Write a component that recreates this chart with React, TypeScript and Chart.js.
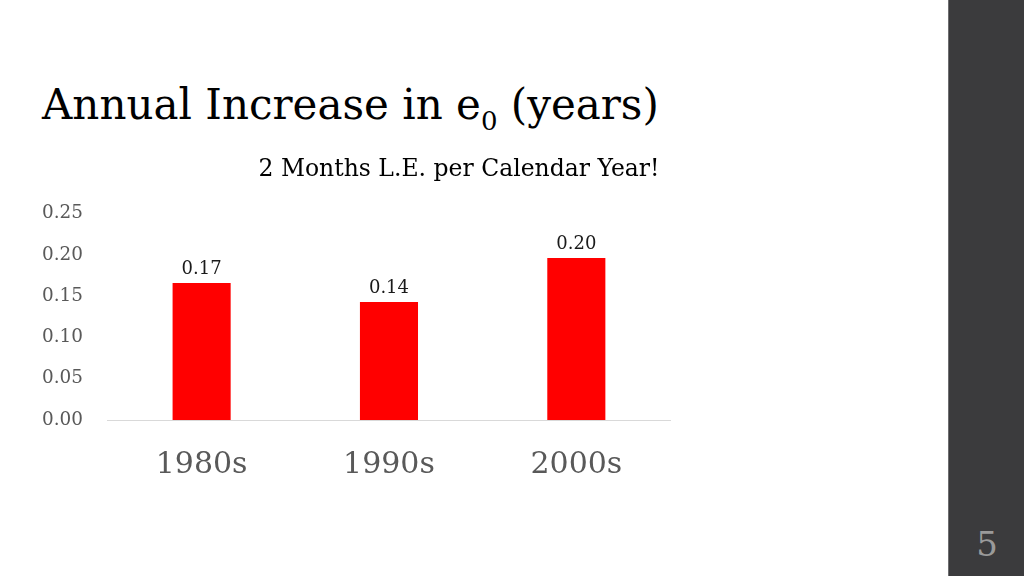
import React, { useEffect, useRef } from 'react';
import { Chart, registerables } from 'chart.js';

Chart.register(...registerables);

// ---- data ----
const categories: string[] = ['1980s', '1990s', '2000s'];
const increaseValues: number[] = [0.166, 0.143, 0.196];
const yMin = 0;
const yMax = 0.25;
const yStep = 0.05;

// ---- texts ----
const slideTitleMain = 'Annual Increase in e';
const slideTitleSub = '0';
const slideTitleEnd = ' (years)';
const chartSubtitle = '2 Months L.E. per Calendar Year!';
const slideNumber = '5';

const FONT = "'DejaVu Serif', serif";

const subtitlePlugin = {
  id: 'slideSubtitle',
  afterDraw(chart: any, _args: any, opts: any) {
    const { ctx, chartArea } = chart;
    ctx.save();
    ctx.font = `${opts.size}px ${FONT}`;
    ctx.fillStyle = opts.color;
    ctx.textAlign = 'center';
    ctx.textBaseline = 'middle';
    ctx.fillText(opts.text, chart.width / 2, chartArea.top - opts.offset);
    ctx.restore();
  },
};

const valueLabelPlugin = {
  id: 'valueLabels',
  afterDatasetsDraw(chart: any, _args: any, opts: any) {
    const { ctx } = chart;
    ctx.save();
    ctx.font = `${opts.size}px ${FONT}`;
    ctx.fillStyle = opts.color;
    ctx.textAlign = 'center';
    ctx.textBaseline = 'alphabetic';
    chart.data.datasets.forEach((ds: any, di: number) => {
      const meta = chart.getDatasetMeta(di);
      meta.data.forEach((el: any, i: number) => {
        const v = ds.data[i] as number;
        ctx.fillText(v.toFixed(2), el.x, el.y - opts.gap);
      });
    });
    ctx.restore();
  },
};

function BarChart() {
  const ref = useRef<HTMLCanvasElement | null>(null);
  useEffect(() => {
    if (!ref.current) return;
    const chart = new Chart(ref.current, {
      type: 'bar',
      data: {
        labels: categories,
        datasets: [
          {
            label: 'Annual increase in e0',
            data: increaseValues,
            backgroundColor: '#FF0000',
            borderWidth: 0,
            barPercentage: 0.31,
            categoryPercentage: 1,
          },
        ],
      },
      options: {
        animation: false,
        responsive: true,
        maintainAspectRatio: false,
        layout: { padding: { left: 0, right: 231, top: 63.5, bottom: 0 } },
        plugins: {
          legend: { display: false },
          tooltip: { enabled: false },
          title: { display: false },
          slideSubtitle: { text: chartSubtitle, size: 23.5, color: '#000000', offset: 43.5 },
          valueLabels: { size: 18, color: '#1a1a1a', gap: 9 },
        } as any,
        scales: {
          x: {
            grid: { display: false, drawTicks: false },
            border: { display: true, color: '#d9d9d9', width: 1 },
            ticks: {
              color: '#595959',
              font: { family: FONT, size: 30 },
              padding: 27,
            },
          },
          y: {
            min: yMin,
            max: yMax,
            grid: { display: false, drawTicks: false },
            border: { display: false },
            ticks: {
              stepSize: yStep,
              color: '#595959',
              font: { family: FONT, size: 18.4 },
              padding: 25,
              callback: (v: any) => Number(v).toFixed(2),
            },
          },
        },
      },
      plugins: [subtitlePlugin, valueLabelPlugin],
    });
    return () => chart.destroy();
  }, []);
  return <canvas ref={ref} />;
}

export default function App() {
  return (
    <div
      style={{
        position: 'absolute',
        left: 0,
        top: 0,
        width: 1024,
        height: 576,
        background: '#ffffff',
        overflow: 'hidden',
        fontFamily: FONT,
      }}
    >
      <div
        style={{
          position: 'absolute',
          left: 42,
          top: 83.5,
          fontSize: 42,
          lineHeight: '42px',
          color: '#000000',
          whiteSpace: 'nowrap',
        }}
      >
        {slideTitleMain}
        <span style={{ fontSize: 26, position: 'relative', top: 11 }}>{slideTitleSub}</span>
        {slideTitleEnd}
      </div>
      <div style={{ position: 'absolute', left: 17, top: 150, width: 884, height: 360 }}>
        <BarChart />
      </div>
      <div
        style={{
          position: 'absolute',
          left: 948,
          top: 0,
          width: 76,
          height: 576,
          background: '#3b3b3d',
          borderLeft: '1px solid #6e6e70',
          boxSizing: 'border-box',
        }}
      >
        <div
          style={{
            position: 'absolute',
            left: 0,
            width: 76,
            top: 524,
            textAlign: 'center',
            fontSize: 34,
            lineHeight: '40px',
            color: '#9a9a9a',
          }}
        >
          {slideNumber}
        </div>
      </div>
    </div>
  );
}
